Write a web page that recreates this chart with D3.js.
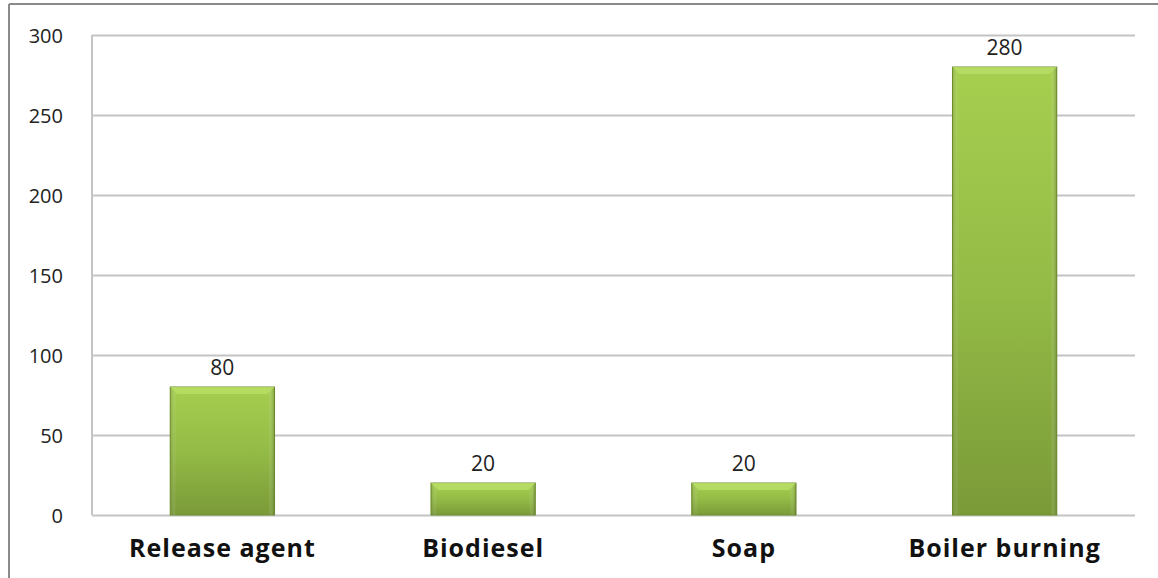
<!DOCTYPE html>
<html>
<head>
<meta charset="utf-8">
<script src="https://d3js.org/d3.v7.min.js"></script>
<style>
  body { margin: 0; background: #fff; }
  text { font-family: "Open Sans", "Noto Sans", sans-serif; }
</style>
</head>
<body>
<div id="chart"></div>
<script>
// chart values
var categories = ["Release agent", "Biodiesel", "Soap", "Boiler burning"];
var values = [80, 20, 20, 280];
var yTicks = [0, 50, 100, 150, 200, 250, 300];

var W = 1158, H = 578;
var margin = { top: 35, right: 23, bottom: 63, left: 92 },
    width = W - margin.left - margin.right,
    height = H - margin.top - margin.bottom;

var svg = d3.select("#chart")
    .append("svg")
    .attr("width", W)
    .attr("height", H);

// outer frame (only left and top edges show)
svg.append("line").attr("x1", 9).attr("y1", 4).attr("x2", W).attr("y2", 4)
    .attr("stroke", "#8a8a8a").attr("stroke-width", 2);
svg.append("line").attr("x1", 9).attr("y1", 4).attr("x2", 9).attr("y2", H)
    .attr("stroke", "#8a8a8a").attr("stroke-width", 2);

var g = svg.append("g")
    .attr("transform", "translate(" + margin.left + "," + margin.top + ")");

var x = d3.scaleBand()
    .domain(categories)
    .range([0, width])
    .paddingInner(0.6)
    .paddingOuter(0.3);

var y = d3.scaleLinear()
    .domain([0, 300])
    .range([height, 0]);

// gradients
var defs = svg.append("defs");
var grad = defs.append("linearGradient")
    .attr("id", "bar-grad")
    .attr("x1", 0).attr("y1", 0).attr("x2", 0).attr("y2", 1);
grad.selectAll("stop")
    .data([
        { offset: "0%", color: "#a6cf4f" },
        { offset: "50%", color: "#94bb46" },
        { offset: "100%", color: "#7a9a38" }
    ])
    .enter().append("stop")
    .attr("offset", function(d) { return d.offset; })
    .attr("stop-color", function(d) { return d.color; });

var side = defs.append("linearGradient")
    .attr("id", "side-grad")
    .attr("x1", 0).attr("y1", 0).attr("x2", 1).attr("y2", 0);
side.selectAll("stop")
    .data([
        { offset: "0%", color: "#5e7a25", op: 0.35 },
        { offset: "6%", color: "#ffffff", op: 0 },
        { offset: "94%", color: "#ffffff", op: 0 },
        { offset: "100%", color: "#4f6a1c", op: 0.45 }
    ])
    .enter().append("stop")
    .attr("offset", function(d) { return d.offset; })
    .attr("stop-color", function(d) { return d.color; })
    .attr("stop-opacity", function(d) { return d.op; });

// gridlines
g.append("g")
    .attr("class", "grid")
    .call(d3.axisLeft(y).tickValues(yTicks).tickSize(-width).tickFormat(""))
    .call(function(s) {
        s.select(".domain").remove();
        s.selectAll("line").attr("stroke", "#c4c4c4").attr("stroke-width", 2);
    });

// y axis line + labels
g.append("line")
    .attr("x1", 0).attr("x2", 0).attr("y1", 0).attr("y2", height)
    .attr("stroke", "#c4c4c4").attr("stroke-width", 2);

g.append("g")
    .call(d3.axisLeft(y).tickValues(yTicks).tickSize(0).tickPadding(29))
    .call(function(s) {
        s.select(".domain").remove();
        s.selectAll("text")
            .attr("font-size", 20)
            .attr("fill", "#222")
            .attr("dy", "0.36em");
    });

// bars
var bars = g.selectAll(".bar")
    .data(values)
    .enter().append("g")
    .attr("class", "bar");

bars.append("rect")
    .attr("x", function(d, i) { return x(categories[i]); })
    .attr("y", function(d) { return y(d); })
    .attr("width", x.bandwidth())
    .attr("height", function(d) { return y(0) - y(d); })
    .attr("fill", "url(#bar-grad)")
    .attr("stroke", "#6f8e2e")
    .attr("stroke-width", 1);

bars.append("rect")
    .attr("x", function(d, i) { return x(categories[i]); })
    .attr("y", function(d) { return y(d); })
    .attr("width", x.bandwidth())
    .attr("height", function(d) { return y(0) - y(d); })
    .attr("fill", "url(#side-grad)");

// top bevel
bars.append("path")
    .attr("d", function(d, i) {
        var x0 = x(categories[i]), x1 = x0 + x.bandwidth(), t = y(d), b = 7;
        return "M" + x0 + "," + t + "L" + x1 + "," + t + "L" + (x1 - b) + "," + (t + b) +
            "L" + (x0 + b) + "," + (t + b) + "Z";
    })
    .attr("fill", "#b9de66")
    .attr("opacity", 0.8);

// value labels
bars.append("text")
    .attr("x", function(d, i) { return x(categories[i]) + x.bandwidth() / 2; })
    .attr("y", function(d) { return y(d) - 12; })
    .attr("text-anchor", "middle")
    .attr("font-size", 21)
    .attr("fill", "#222")
    .text(function(d) { return d; });

// category axis
g.append("g")
    .attr("transform", "translate(0," + height + ")")
    .call(d3.axisBottom(x).tickSize(0).tickPadding(0))
    .call(function(s) {
        s.select(".domain").remove();
        s.selectAll("text")
            .attr("font-size", 25)
            .attr("font-weight", "bold")
            .attr("letter-spacing", 1)
            .attr("fill", "#111")
            .attr("y", 42)
            .attr("dy", 0);
    });
</script>
</body>
</html>
